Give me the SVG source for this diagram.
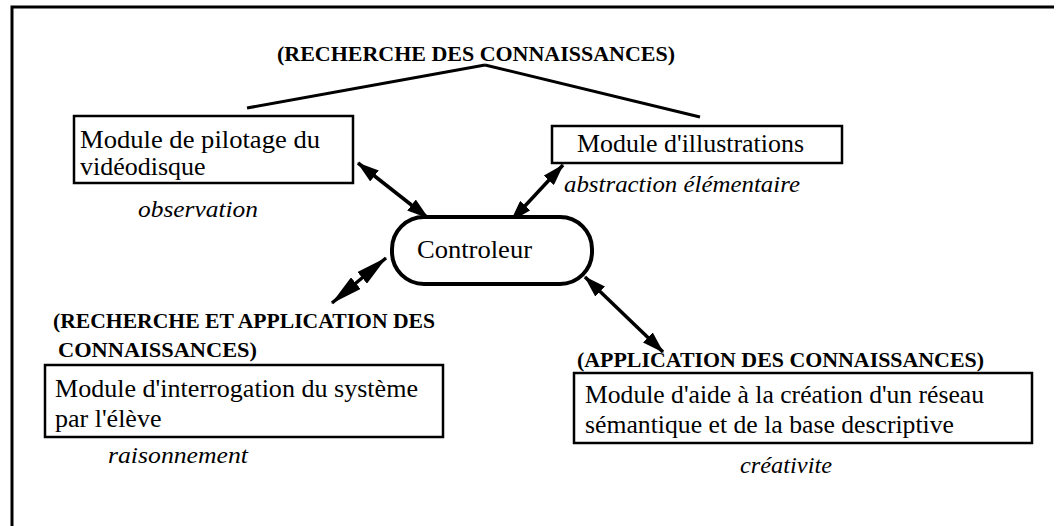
<svg xmlns="http://www.w3.org/2000/svg" width="1057" height="526" viewBox="0 0 1057 526">
<style>
  .box { fill: #fff; stroke: #000; stroke-width: 2.5; }
  .ctrl { fill: #fff; stroke: #000; stroke-width: 4; }
  .t { font-family: "Liberation Serif", "Times New Roman", serif; font-size: 26px; fill: #000; }
  .b { font-family: "Liberation Serif", "Times New Roman", serif; font-size: 22px; font-weight: bold; fill: #000; }
  .i { font-family: "Liberation Serif", "Times New Roman", serif; font-size: 24px; font-style: italic; fill: #000; }
  .ln { stroke: #000; stroke-width: 3; fill: none; }
  .ar { stroke: #000; stroke-width: 3.5; fill: none; }
</style>
<defs>
  <marker id="head" viewBox="0 0 22 14" refX="21" refY="7" markerWidth="22" markerHeight="14" markerUnits="userSpaceOnUse" orient="auto-start-reverse">
    <path d="M0,0 L22,7 L0,14 z" fill="#000"/>
  </marker>
  <marker id="headlong" viewBox="0 0 32 15" refX="31" refY="7.5" markerWidth="32" markerHeight="15" markerUnits="userSpaceOnUse" orient="auto-start-reverse">
    <path d="M0,0 L32,7.5 L0,15 z" fill="#000"/>
  </marker>
</defs>
<rect width="1057" height="526" fill="#fff"/>
<g id="frame">
  <path class="ln" d="M12,526 L12,7 L1054,7"/>
</g>
<g id="connectors">
  <line class="ln" x1="485" y1="65" x2="247" y2="108"/>
  <line class="ln" x1="485" y1="65" x2="700" y2="117"/>
  <line class="ar" x1="358" y1="163" x2="428" y2="218" marker-start="url(#head)" marker-end="url(#head)"/>
  <line class="ar" x1="563" y1="165" x2="511" y2="221" marker-start="url(#head)" marker-end="url(#head)"/>
  <line class="ar" x1="386" y1="258" x2="332" y2="303" marker-start="url(#headlong)" marker-end="url(#headlong)"/>
  <line class="ar" x1="585" y1="277" x2="663" y2="352" marker-start="url(#head)" marker-end="url(#head)"/>
</g>
<g id="title">
  <text class="b" x="277" y="61" textLength="398" lengthAdjust="spacingAndGlyphs">(RECHERCHE DES CONNAISSANCES)</text>
</g>
<g id="node-pilotage">
  <rect class="box" x="74" y="116" width="279" height="67"/>
  <text class="t" x="80" y="148" textLength="240" lengthAdjust="spacingAndGlyphs">Module de pilotage du</text>
  <text class="t" x="80" y="175">vidéodisque</text>
  <text class="i" x="138" y="217" textLength="120" lengthAdjust="spacingAndGlyphs">observation</text>
</g>
<g id="node-illustrations">
  <rect class="box" x="552" y="126" width="290" height="37"/>
  <text class="t" x="577" y="152" textLength="227" lengthAdjust="spacingAndGlyphs">Module d'illustrations</text>
  <text class="i" x="564" y="192" textLength="236" lengthAdjust="spacingAndGlyphs">abstraction élémentaire</text>
</g>
<g id="node-controleur">
  <rect class="ctrl" x="392" y="217" width="200" height="67" rx="32" ry="32"/>
  <text class="t" x="417" y="258" textLength="115" lengthAdjust="spacingAndGlyphs">Controleur</text>
</g>
<g id="node-interrogation">
  <text class="b" x="53" y="328" textLength="382" lengthAdjust="spacingAndGlyphs">(RECHERCHE ET APPLICATION DES</text>
  <text class="b" x="58" y="357" textLength="199" lengthAdjust="spacingAndGlyphs">CONNAISSANCES)</text>
  <rect class="box" x="45" y="365" width="398" height="72"/>
  <text class="t" x="55" y="397" textLength="363" lengthAdjust="spacingAndGlyphs">Module d'interrogation du système</text>
  <text class="t" x="55" y="427">par l'élève</text>
  <text class="i" x="108" y="463" textLength="140" lengthAdjust="spacingAndGlyphs">raisonnement</text>
</g>
<g id="node-reseau">
  <text class="b" x="577" y="367" textLength="407" lengthAdjust="spacingAndGlyphs">(APPLICATION DES CONNAISSANCES)</text>
  <rect class="box" x="574" y="373" width="458" height="70"/>
  <text class="t" x="585" y="403" textLength="399" lengthAdjust="spacingAndGlyphs">Module d'aide à la création d'un réseau</text>
  <text class="t" x="585" y="433" textLength="369" lengthAdjust="spacingAndGlyphs">sémantique et de la base descriptive</text>
  <text class="i" x="740" y="473" textLength="92" lengthAdjust="spacingAndGlyphs">créativite</text>
</g>
</svg>
